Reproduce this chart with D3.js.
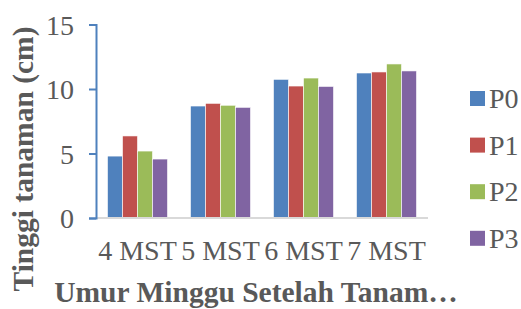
<!DOCTYPE html>
<html><head><meta charset="utf-8">
<script src="https://cdn.jsdelivr.net/npm/d3@7"></script>
<style>body{margin:0;background:#fff}svg{display:block}text{font-family:"Liberation Serif","Times New Roman",serif;fill:#595959}</style>
</head><body><svg id="c" width="521" height="309"></svg>
<script>
const categories = ["4 MST", "5 MST", "6 MST", "7 MST"];
const seriesNames = ["P0", "P1", "P2", "P3"];
const P0 = [4.8, 8.68, 10.75, 11.24];
const P1 = [6.36, 8.89, 10.23, 11.32];
const P2 = [5.19, 8.74, 10.85, 11.94];
const P3 = [4.57, 8.58, 10.2, 11.4];
const yTicks = [0, 5, 10, 15];
const colors = ["#4F81BD", "#C0504D", "#9BBB59", "#8064A2"];
const yTitle = "Tinggi tanaman (cm)";
const xTitle = "Umur Minggu Setelah Tanam…";

const series = [P0, P1, P2, P3];
const svg = d3.select("#c");
const x = d3.scaleBand().domain(categories).range([96, 428]).paddingInner(0.277).paddingOuter(0.1385);
const xs = d3.scaleBand().domain(seriesNames).range([0, x.bandwidth()]);
const y = d3.scaleLinear().domain([0, 15]).range([218, 24.5]);

// bars
series.forEach((vals, si) => {
  svg.append("g").selectAll("rect").data(vals).join("rect")
    .attr("x", (d, i) => x(categories[i]) + xs(seriesNames[si]))
    .attr("y", d => y(d))
    .attr("width", xs.bandwidth())
    .attr("height", d => y(0) - y(d))
    .attr("fill", colors[si])
    .attr("stroke", "#fff").attr("stroke-width", 0.6);
});

// x axis line
svg.append("line").attr("x1", 96).attr("x2", 428).attr("y1", y(0)).attr("y2", y(0))
  .attr("stroke", "#D9D9D9").attr("stroke-width", 2);

// y axis
const ya = svg.append("g").attr("transform", "translate(96,0)")
  .call(d3.axisLeft(y).tickValues(yTicks).tickSize(7).tickPadding(15).tickFormat(d3.format("d")));
ya.select(".domain").attr("stroke", "#4F81BD").attr("stroke-width", 2);
ya.selectAll(".tick line").attr("stroke", "#4F81BD").attr("stroke-width", 2);
ya.selectAll(".tick text").attr("font-size", 28).attr("fill", "#595959")
  .attr("font-family", "Liberation Serif").attr("dy", "0.34em");

// category labels
svg.append("g").selectAll("text").data(categories).join("text")
  .attr("x", d => x(d) + x.bandwidth() / 2).attr("y", 260)
  .attr("text-anchor", "middle").attr("font-size", 28).text(d => d);

// titles
svg.append("text").attr("x", 256).attr("y", 302).attr("text-anchor", "middle")
  .attr("font-size", 29.5).attr("font-weight", "bold").text(xTitle);
svg.append("text").attr("transform", "translate(33,159) rotate(-90)")
  .attr("text-anchor", "middle").attr("font-size", 29.5).attr("font-weight", "bold").text(yTitle);

// legend
const lg = svg.append("g").selectAll("g").data(seriesNames).join("g")
  .attr("transform", (d, i) => `translate(470,${91 + i * 46.6})`);
lg.append("rect").attr("width", 15).attr("height", 15).attr("fill", (d, i) => colors[i]);
lg.append("text").attr("x", 19).attr("y", 17).attr("font-size", 28).text(d => d);
</script></body></html>
